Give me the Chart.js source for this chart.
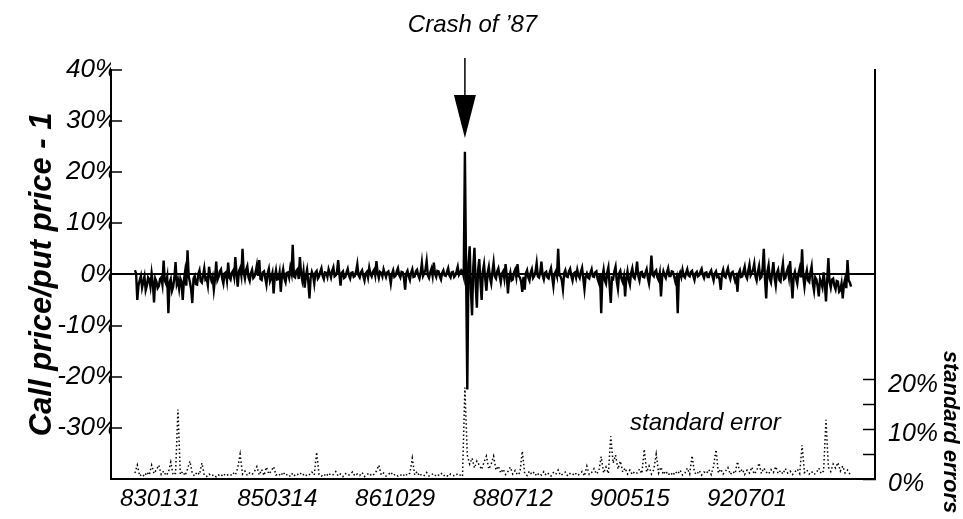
<!DOCTYPE html>
<html>
<head>
<meta charset="utf-8">
<script src="https://cdn.jsdelivr.net/npm/chart.js@4.4.1/dist/chart.umd.min.js"></script>
<style>
 html, body { margin: 0; padding: 0; background: #fff; }
 #wrap { width: 963px; height: 519px; position: relative; }
</style>
</head>
<body>
<div id="wrap"><canvas id="crashChart"></canvas></div>
<script>
// call price / put price - 1 (%), one value per sampled trading day
const callPut = [
 0.8, 0.2, -5.0, -2.1, -1.2, -0.3, -2.6, -1.5, -0.4, -3.1, -2.2, -0.6, -1.0, -2.4, 0.2, -1.7, -5.5, -0.8, -1.4, -2.7,
 -2.3, -0.9, -0.6, -2.0, 2.7, -1.2, -1.8, -0.5, -7.6, -1.6, -0.9, -3.2, -2.4, -0.7, 2.4, -1.9, -1.1, -2.8, -0.8, -1.5,
 -5.0, -1.1, 0.6, -2.2, 4.7, -0.4, -1.5, -2.9, -5.6, -0.8, -0.3, -1.9, -2.0, 0.1, 0.8, -1.3, -1.6, -0.2, 1.2, -1.0,
 -0.7, -2.1, 1.5, -0.3, -1.2, -0.4, -3.0, -0.9, 2.5, -1.1, -0.5, 0.6, 1.0, -0.8, -1.8, 0.2, 0.4, -1.2, 2.3, -0.6,
 -1.0, 0.3, 0.7, -0.5, 3.4, 0.1, -2.4, 0.6, 1.2, -0.2, 5.0, 0.4, -0.8, 0.9, 1.6, -0.6, -1.3, 0.2, 0.9, -0.7,
 -0.4, 0.5, 1.8, -0.3, 2.8, -0.9, -1.1, 0.4, 0.6, -0.7, -2.0, 0.2, 1.1, -1.3, -0.6, 0.3, -3.7, -0.5, 0.8, -1.0,
 -0.9, 0.4, -3.4, -0.2, 1.0, -0.8, -1.5, 0.3, 0.4, -0.6, 1.3, 0.2, 5.8, -0.4, -0.6, 0.7, 1.0, -0.9, 3.4, 0.1,
 -1.2, 0.6, -2.6, -0.3, 0.9, -1.4, -4.7, -0.6, 0.5, -0.2, -1.8, 0.4, 0.7, -0.8, -0.4, 0.5, 1.2, -0.3, -0.9, 0.4,
 0.3, -0.5, 1.0, 0.2, -0.6, 0.7, 1.4, -0.4, -0.2, 0.5, 2.8, 0.1, -2.2, 0.3, 0.6, -0.7, -0.5, 0.4, 1.1, -0.2,
 -0.8, 0.3, 0.4, -0.5, -0.3, 0.6, 2.0, -0.2, -0.6, 0.4, 0.8, -0.3, -1.2, 0.2, 0.5, -0.6, 1.3, 0.1, -0.4, 0.5,
 0.9, -0.2, 2.6, 0.3, -0.7, 0.5, 0.3, -0.4, 1.0, 0.2, -0.5, 0.4, 0.6, -0.3, -1.8, 0.1, 0.8, -0.5, -0.3, 0.6,
 1.2, -0.1, -0.6, 0.5, 0.4, -0.7, -3.0, 0.2, 0.7, -0.4, -1.1, 0.3, 1.0, -0.5, -0.4, 0.6, 0.9, -0.2, -0.8, 0.3,
 2.3, -0.3, 0.2, 0.9, 2.6, -0.2, -0.7, 0.4, 1.1, -0.3, 2.3, 0.1, -0.5, 0.7, 0.6, -0.4, -1.0, 0.3, 0.8, -0.2,
 -0.3, 0.5, 1.2, -0.2, -0.6, 0.4, 0.5, -0.5, -0.2, 0.6, 1.5, -0.1, 0.3, 0.8, 0.6, -0.4, 24.0, 0.4, -22.5, 2.1,
 5.5, -3.1, -8.0, 1.4, 5.2, -2.0, -6.5, 0.8, 3.0, -1.4, -5.0, 0.6, 2.0, -0.9, -3.2, 0.3, 1.5, -0.7, -1.8, 0.5,
 2.3, -0.4, -0.8, 0.6, 1.2, -0.3, -1.5, 0.2, 0.6, -0.8, 2.0, -0.2, -3.7, -0.6, 0.4, -1.2, -1.0, 0.3, 0.9, -0.5,
 2.0, -0.3, -0.6, -1.4, -3.4, -0.5, -3.0, 0.2, 0.8, -0.6, -1.2, 0.3, 1.0, -0.7, -0.3, 0.5, 2.2, -0.4, -0.6, 0.4,
 2.5, -0.2, -1.0, 0.3, 0.5, -0.6, -0.8, 0.4, 1.2, -0.5, -2.3, 0.1, 0.6, -0.3, 5.0, -0.2, -0.4, -1.1, -2.9, 0.2,
 0.8, -0.4, -0.5, 0.6, 1.1, -0.3, -1.2, 0.2, 0.4, -0.6, 0.9, -0.2, -0.7, 0.5, 1.3, -0.8, -2.9, -0.4, 0.2, -0.6,
 -0.8, 0.3, 1.0, -0.4, -0.5, 0.4, 0.6, -0.9, -1.6, 0.2, -7.6, -0.5, 0.9, -1.2, -1.8, 0.4, 1.4, -2.1, -5.6, -0.7,
 -0.9, 0.6, 1.5, -1.3, -2.8, 0.2, 0.7, -0.9, -1.5, -0.4, -4.3, -0.8, 0.6, -1.1, -2.0, 0.3, 1.2, -0.5, -0.8, 0.4,
 2.5, -0.3, -1.2, 0.4, 0.5, -0.5, -0.6, 0.3, 1.0, -0.7, -1.8, 0.2, 3.7, -0.1, -0.4, 0.5, 0.8, -0.6, -1.1, 0.2,
 -4.3, -0.5, 0.6, -0.2, -0.7, 0.4, 1.2, -0.3, -0.3, 0.6, 0.5, -0.4, -1.4, -0.6, -7.6, -0.2, 0.4, -0.5, 0.9, -0.3,
 -0.6, 0.3, 1.0, -0.2, -0.4, 0.5, 0.7, -0.3, -1.1, 0.2, 0.5, -0.4, -0.2, 0.6, 1.1, -0.1, -0.7, 0.3, 0.4, -0.5,
 -0.5, 0.4, 0.8, -0.3, -1.2, 0.2, 0.6, -0.5, -0.3, -1.0, -3.0, 0.1, 0.9, -0.4, -0.6, 0.5, 1.2, -0.2, -0.9, 0.3,
 0.5, -0.4, -1.3, -0.6, -3.4, 0.2, 0.8, -0.5, -0.4, 0.6, 1.5, -0.3, -0.8, 0.7, 1.9, -0.2, 0.3, 0.9, 2.1, -0.4,
 -1.2, 0.5, 1.6, -0.8, -0.5, 1.2, 5.0, -1.0, -4.7, 0.6, 1.8, -0.9, -1.6, 0.4, 2.4, -0.7, -2.2, 0.3, 0.9, -1.1,
 -1.4, 0.6, 2.2, -0.9, -0.7, 0.4, 1.1, -0.5, 2.6, -1.2, -4.7, -0.3, 0.5, -0.8, -1.8, 0.2, 1.2, -0.6, 4.9, -0.4,
 -2.4, -0.3, 0.8, -1.2, -1.5, 0.4, 1.6, -1.8, -3.2, -0.6, -1.0, -2.3, -4.3, -0.9, -1.6, -2.5, 0.4, -1.7, -5.3, -1.1,
 3.2, -1.5, -2.6, -1.0, -0.8, -2.2, -2.9, -1.3, -1.4, -3.4, -3.1, -1.8, -4.7, -2.0, -0.9, -2.7, 2.8, -1.2, -1.6, -2.4
];

// standard error (%), right axis, sampled every second day
const stdError = [
 1.2, 2.8, 0.6, 1.0, 0.5, 1.4, 0.8, 2.8, 1.1, 1.9,
 2.8, 0.9, 1.6, 0.7, 1.3, 3.4, 0.8, 1.2, 14.0, 0.9,
 1.5, 0.7, 2.0, 3.6, 1.1, 0.6, 1.4, 0.9, 3.2, 0.8,
 0.5, 1.0, 0.6, 0.9, 0.4, 0.8, 0.5, 1.1, 0.6, 0.9,
 0.7, 1.3, 0.8, 2.2, 5.0, 1.0, 1.6, 0.7, 1.2, 0.9,
 1.5, 2.5, 0.8, 1.9, 0.7, 2.4, 1.0, 1.6, 2.5, 0.8,
 1.1, 0.6, 1.4, 0.7, 1.0, 0.5, 1.2, 0.6, 0.9, 1.3,
 0.7, 1.1, 0.6, 0.9, 1.4, 0.8, 5.4, 0.9, 0.6, 1.0,
 0.5, 1.2, 0.7, 0.9, 1.5, 0.6, 1.0, 0.5, 1.1, 0.7,
 0.9, 1.4, 0.6, 1.0, 0.7, 1.3, 0.5, 0.9, 1.2, 0.6,
 1.0, 1.6, 2.8, 0.8, 1.2, 0.6, 0.9, 1.4, 0.7, 1.0,
 0.6, 0.9, 0.5, 1.1, 0.7, 1.2, 4.2, 0.8, 1.5, 0.6,
 1.0, 0.7, 1.3, 0.6, 0.9, 1.1, 0.5, 0.8, 1.2, 0.6,
 0.9, 0.5, 1.0, 0.7, 0.6, 1.1, 0.8, 0.5, 18.4, 4.8,
 3.0, 4.2, 2.2, 3.6, 2.8, 1.9, 3.4, 4.6, 2.0, 3.0,
 4.6, 1.8, 2.6, 1.2, 2.0, 0.9, 1.5, 2.4, 1.0, 1.7,
 0.8, 1.3, 5.6, 1.1, 0.7, 1.6, 0.9, 1.4, 0.6, 1.2,
 0.8, 1.5, 0.7, 1.1, 0.6, 1.3, 0.9, 1.8, 0.7, 1.0,
 1.4, 0.6, 1.1, 0.8, 1.3, 0.7, 1.0, 1.5, 0.6, 2.6,
 0.9, 1.3, 2.1, 1.0, 1.6, 4.5, 1.2, 2.4, 1.1, 8.6,
 3.2, 4.8, 2.0, 3.6, 1.4, 2.2, 1.0, 1.8, 0.9, 1.5,
 1.2, 2.0, 1.1, 6.0, 1.4, 2.6, 1.0, 1.9, 5.0, 1.2,
 2.4, 0.9, 1.6, 0.8, 1.3, 0.7, 1.5, 1.0, 1.8, 0.8,
 1.2, 2.2, 1.0, 4.7, 1.3, 0.9, 1.7, 0.8, 1.4, 1.1,
 1.9, 0.9, 2.6, 5.9, 1.2, 2.0, 1.0, 1.6, 2.3, 0.9,
 1.5, 1.1, 3.5, 1.3, 2.0, 0.9, 1.8, 1.2, 2.4, 1.0,
 1.6, 3.2, 1.1, 2.2, 1.4, 1.0, 1.9, 1.3, 2.5, 1.1,
 1.7, 1.0, 2.1, 1.2, 1.6, 0.9, 1.4, 2.0, 1.1, 6.8,
 1.3, 1.8, 1.0, 1.5, 0.9, 1.3, 2.2, 1.1, 1.6, 11.9,
 2.4, 1.5, 3.0, 2.2, 3.3, 1.6, 2.6, 1.2, 1.8, 1.0
];

// date labels (YYMMDD) and the day index they sit at
const dateLabels = ['830131', '850314', '861029', '880712', '900515', '920701'];
const dateTicks = [21, 119, 217.6, 316, 414, 512];
const seTicks = [0, 5, 10, 15, 20];
const crashIndex = 276;

const FONT = '"Liberation Sans", Arial, Helvetica, sans-serif';

// arrow, "standard error" note and right axis title
const annotations = {
 id: 'annotations',
 afterDraw(chart) {
  const ctx = chart.ctx;
  const x = chart.scales.x.getPixelForValue(crashIndex);
  ctx.save();
  ctx.strokeStyle = '#000';
  ctx.fillStyle = '#000';
  ctx.lineWidth = 1.5;
  ctx.beginPath();
  ctx.moveTo(x, 58);
  ctx.lineTo(x, 96);
  ctx.stroke();
  ctx.beginPath();
  ctx.moveTo(x - 11, 95);
  ctx.lineTo(x + 11, 95);
  ctx.lineTo(x, 138);
  ctx.closePath();
  ctx.fill();

  ctx.font = 'italic 24px ' + FONT;
  ctx.textAlign = 'left';
  ctx.textBaseline = 'middle';
  ctx.fillText('standard error', 630, 423);

  ctx.font = 'italic bold 22px ' + FONT;
  ctx.translate(950, 432);
  ctx.rotate(Math.PI / 2);
  ctx.textAlign = 'center';
  ctx.fillText('standard errors', 0, 0);
  ctx.restore();
 }
};

const ctx = document.getElementById('crashChart').getContext('2d');
new Chart(ctx, {
 type: 'line',
 data: {
  datasets: [{
   label: 'Call price/put price - 1',
   data: callPut.map((v, i) => ({ x: i, y: v })),
   borderColor: '#000',
   borderWidth: 2.4,
   pointRadius: 0,
   tension: 0,
   yAxisID: 'y'
  }, {
   label: 'standard error',
   data: stdError.map((v, i) => ({ x: i * 2, y: v })),
   borderColor: '#000',
   borderWidth: 1.5,
   borderDash: [1.5, 2.5],
   pointRadius: 0,
   tension: 0,
   yAxisID: 'y2'
  }]
 },
 options: {
  responsive: true,
  maintainAspectRatio: false,
  animation: false,
  layout: { padding: { left: 0, right: 18, top: 0, bottom: 0 } },
  plugins: {
   legend: { display: false },
   tooltip: { enabled: false },
   title: {
    display: true,
    text: "Crash of \u201987",
    color: '#000',
    font: { family: FONT, size: 24, style: 'italic', weight: 'normal' },
    padding: { top: 11, bottom: 30 }
   }
  },
  scales: {
   x: {
    type: 'linear',
    min: -20,
    max: 619,
    afterBuildTicks: s => { s.ticks = dateTicks.map(v => ({ value: v })); },
    afterFit: s => { s.height = 37; },
    ticks: {
     autoSkip: false,
     maxRotation: 0,
     padding: 6,
     color: '#000',
     font: { family: FONT, size: 24, style: 'italic' },
     callback: v => dateLabels[dateTicks.indexOf(v)]
    },
    grid: { display: false, drawTicks: false },
    border: { display: true, color: '#000', width: 2 }
   },
   y: {
    position: 'left',
    min: -40,
    max: 40,
    afterFit: s => { s.width = 111; },
    ticks: {
     stepSize: 10,
     padding: 4,
     color: '#000',
     font: { family: FONT, size: 26, style: 'italic' },
     callback: v => (v === -40 ? '' : v + '%')
    },
    grid: {
     drawOnChartArea: true,
     tickLength: -11,
     lineWidth: 2,
     tickWidth: 1.5,
     color: c => (c.tick && c.tick.value === 0 ? '#000' : 'rgba(0,0,0,0)'),
     tickColor: c => (c.tick && c.tick.value === -40 ? 'rgba(0,0,0,0)' : '#000')
    },
    border: { display: true, color: '#000', width: 2 },
    title: {
     display: true,
     text: 'Call price/put price - 1',
     color: '#000',
     font: { family: FONT, size: 31, style: 'italic', weight: 'bold' },
     padding: { top: 24, bottom: 0 }
    }
   },
   y2: {
    position: 'right',
    min: 0,
    max: 82.4,
    afterBuildTicks: s => { s.ticks = seTicks.map(v => ({ value: v })); },
    afterFit: s => { s.width = 70; },
    ticks: {
     autoSkip: false,
     padding: 25,
     labelOffset: 5,
     color: '#000',
     font: { family: FONT, size: 25, style: 'italic' },
     callback: v => (v % 10 === 0 ? v + '%' : '')
    },
    grid: {
     drawOnChartArea: false,
     tickLength: -12,
     tickWidth: 1.5,
     tickColor: '#000'
    },
    border: { display: true, color: '#000', width: 2 }
   }
  }
 },
 plugins: [annotations]
});
</script>
</body>
</html>
